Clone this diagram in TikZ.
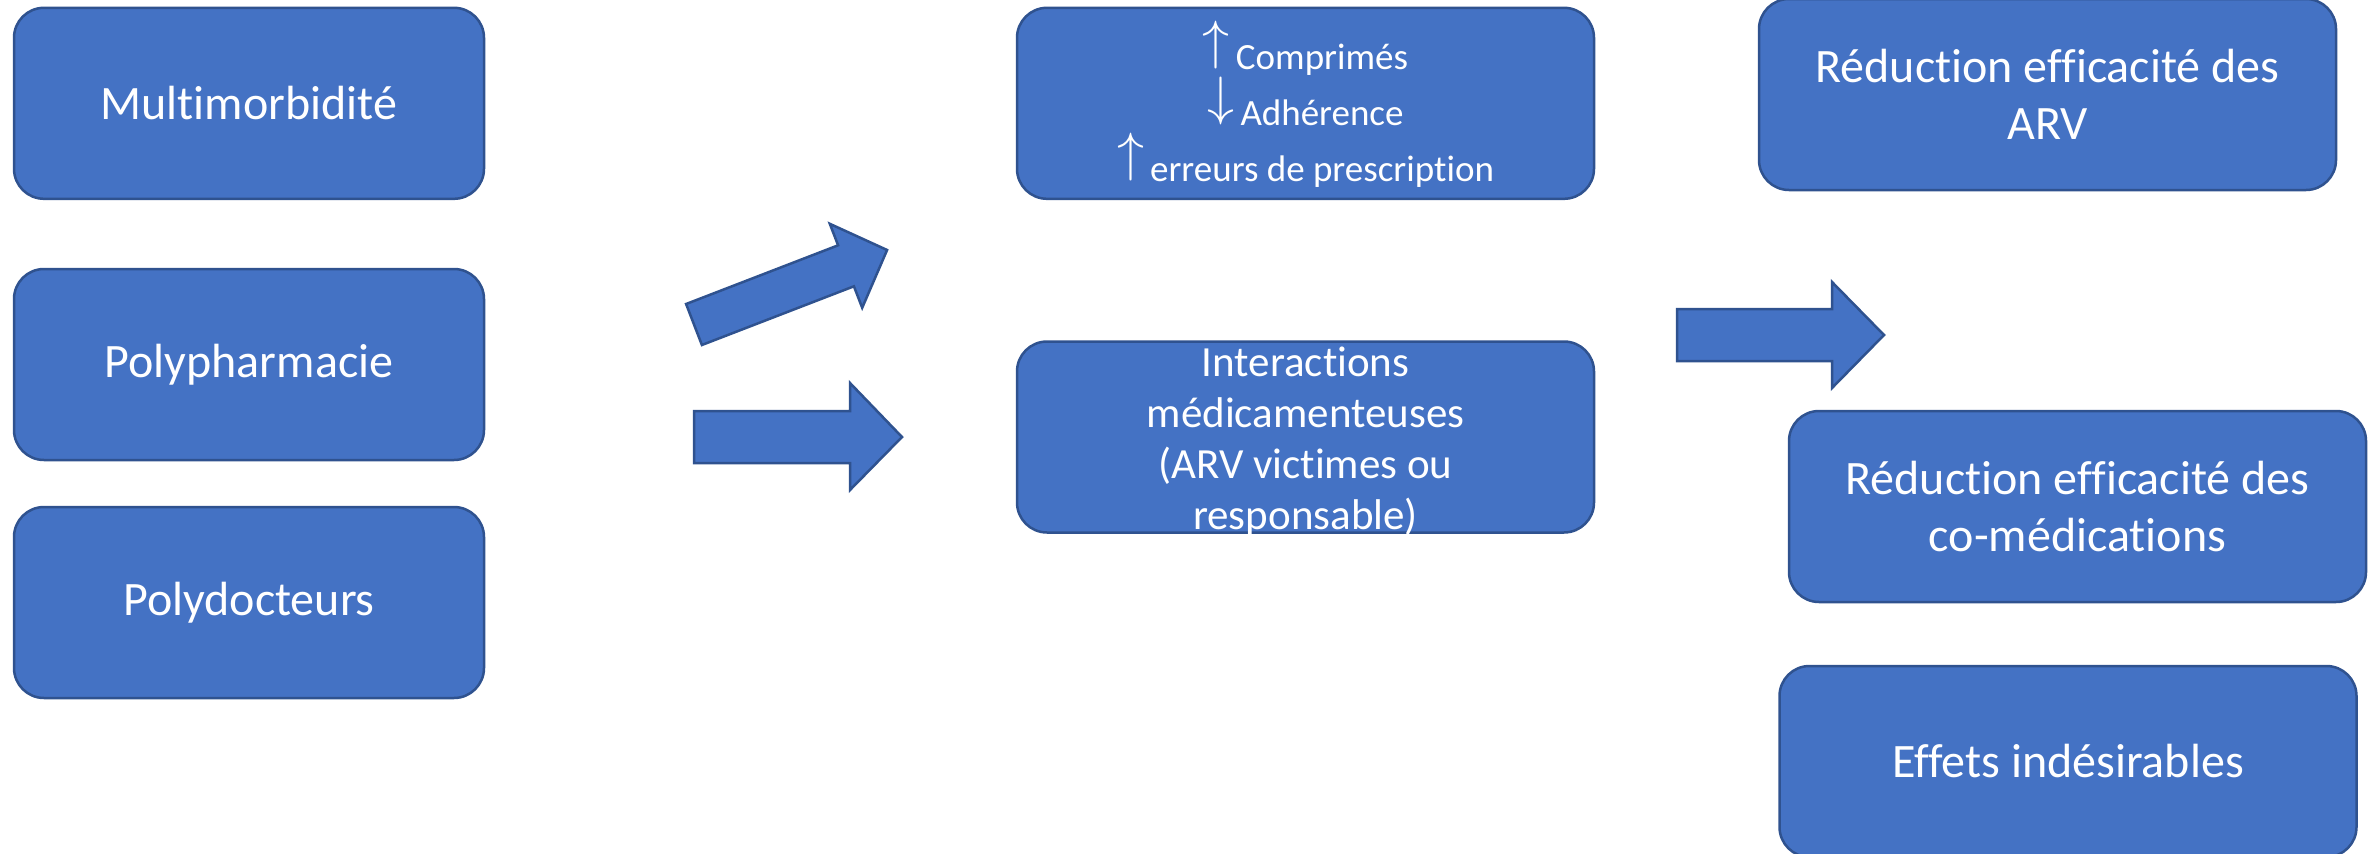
\documentclass[tikz,border=0pt]{standalone}
\usepackage{fontspec}
\setmainfont{Carlito}[Ligatures=NoCommon]
\definecolor{boxfill}{HTML}{4472C4}
\definecolor{boxline}{HTML}{2F528F}
\tikzset{
  card/.style={draw=boxline, fill=boxfill, line width=2.5pt, rounded corners=30pt,
    minimum height=191pt, inner sep=0pt, text=white, align=center,
    font=\fontsize{48}{57}\selectfont},
  widecard/.style={minimum width=577pt},
  narrowcard/.style={minimum width=470pt},
  cardtext/.style={text=white, align=center, inner sep=0pt},
  blockarrow/.style={draw=boxline, fill=boxfill, line width=2.5pt, line join=miter},
}
% thin math arrows, enlarged
\newcommand{\bigmatharrow}[1]{\raisebox{10.5pt}{\scalebox{5.4}{\fontsize{10}{12}\selectfont$#1$}}}
\newcommand{\incr}{\bigmatharrow{\uparrow}}
\newcommand{\decr}{\bigmatharrow{\downarrow}}
\begin{document}
\begin{tikzpicture}[x=1pt,y=-1pt]
\useasboundingbox (0,0) rectangle (2380,854);

% causes
\node[card,narrowcard] (multi) at (249,103.3) {Multimorbidité};
\node[card,narrowcard] (polyph) at (249,364.5) {Polypharmacie};
\node[card,narrowcard] (polydoc) at (249,602.5) {Polydocteurs};

% intermediate effects
\node[card,widecard] (presc) at (1305.5,103.3) {};
\node[cardtext, font=\fontsize{37}{56}\selectfont] (presctxt) at (1305.5,104)
  {\incr\hspace{6pt}Comprimés\\ \decr\hspace{6pt}Adhérence\\ \incr\hspace{6pt}erreurs de prescription};
\node[card,widecard] (inter) at (1305.5,437) {};
\node[cardtext, font=\fontsize{43}{51}\selectfont] (intertxt) at (1305.5,442)
  {Interactions\\médicamenteuses\\(ARV victimes ou\\responsable)};

% consequences
\node[card,widecard] (redarv) at (2047.5,94.5) {Réduction efficacité des\\ARV};
\node[card,widecard] (redco) at (2077.5,506.5) {Réduction efficacité des\\co-médications};
\node[card,widecard] (effets) at (2068,761.5) {Effets indésirables};

% block arrows
\draw[blockarrow] (686.1,304.0) -- (838.1,245.3) -- (829.8,223.8) -- (887.1,250)
  -- (862.2,307.8) -- (853.9,286.3) -- (701.9,345.0) -- cycle;
\draw[blockarrow] (694,411) -- (850,411) -- (850,383) -- (902,437)
  -- (850,490) -- (850,463) -- (694,463) -- cycle;
\draw[blockarrow] (1677,309) -- (1832,309) -- (1832,282) -- (1884,335)
  -- (1832,388) -- (1832,361) -- (1677,361) -- cycle;
\end{tikzpicture}
\end{document}
